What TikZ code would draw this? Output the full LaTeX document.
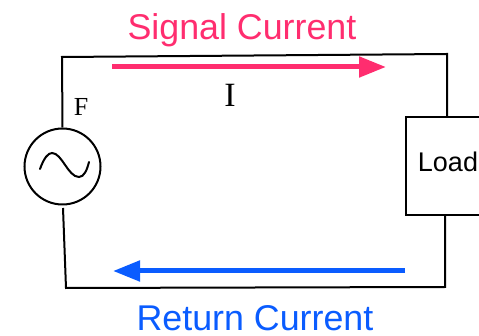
\documentclass[tikz,border=0pt]{standalone}
\usepackage{fontspec}
\usepackage{xcolor}
\usetikzlibrary{arrows.meta}
\setmainfont{Liberation Sans}
\newfontfamily\serifpart{Liberation Serif}
\definecolor{signalred}{HTML}{FF2D6F}
\definecolor{returnblue}{HTML}{0A5CFF}

\begin{document}
\begin{tikzpicture}[x=1pt,y=-1pt,
    wire/.style={line width=2pt,black},
    current/.style={-{Triangle[length=27pt,width=20pt]},line width=5pt}]
\useasboundingbox (0,0) rectangle (479,336);
\node[draw, circle, line width=2pt, minimum size=76pt, inner sep=0pt] (source) at (62.5,166.5) {};
\node[draw, rectangle, line width=2pt, minimum width=90pt, minimum height=98pt, inner sep=0pt, anchor=north west] (load) at (405,116) {};
\node[inner sep=0pt, font=\fontsize{27}{27}\selectfont] (loadtext) at (448,162) {Load};
\node[inner sep=0pt, font=\serifpart\fontsize{26}{26}\selectfont] (f) at (81,107) {F};
\node[inner sep=0pt, font=\serifpart\fontsize{34}{34}\selectfont] (i) at (230,95) {I};
\node[inner sep=0pt, font=\fontsize{35.8}{35.8}\selectfont, text=signalred] (signal) at (242,30) {Signal Current};
\node[inner sep=0pt, font=\fontsize{35.8}{35.8}\selectfont, text=returnblue] (return) at (255,318.5) {Return Current};
\coordinate (topleft) at (62,57);
\coordinate (topright) at (447,54);
\coordinate (botright) at (445,287);
\coordinate (botleft) at (66,288);
\coordinate (srcend) at (63,208);
\coordinate (redstart) at (112,67);
\coordinate (redend) at (386,67);
\coordinate (bluestart) at (405,271);
\coordinate (blueend) at (113,271);
\draw [wire,line join=miter] (source.north) -- (topleft) -- (topright) -- (load.north -| topright);
\draw [wire,line join=miter] (load.south -| botright) -- (botright) -- (botleft) -- (srcend);
\draw [line width=2pt,line cap=round] (40,169) .. controls (44,158) and (48,153) .. (52,153)
  .. controls (62,153) and (68,177) .. (79,177) .. controls (84,177) and (87,170) .. (89,162);
\draw [current,signalred] (redstart) -- (redend);
\draw [current,returnblue] (bluestart) -- (blueend);
\end{tikzpicture}
\end{document}
